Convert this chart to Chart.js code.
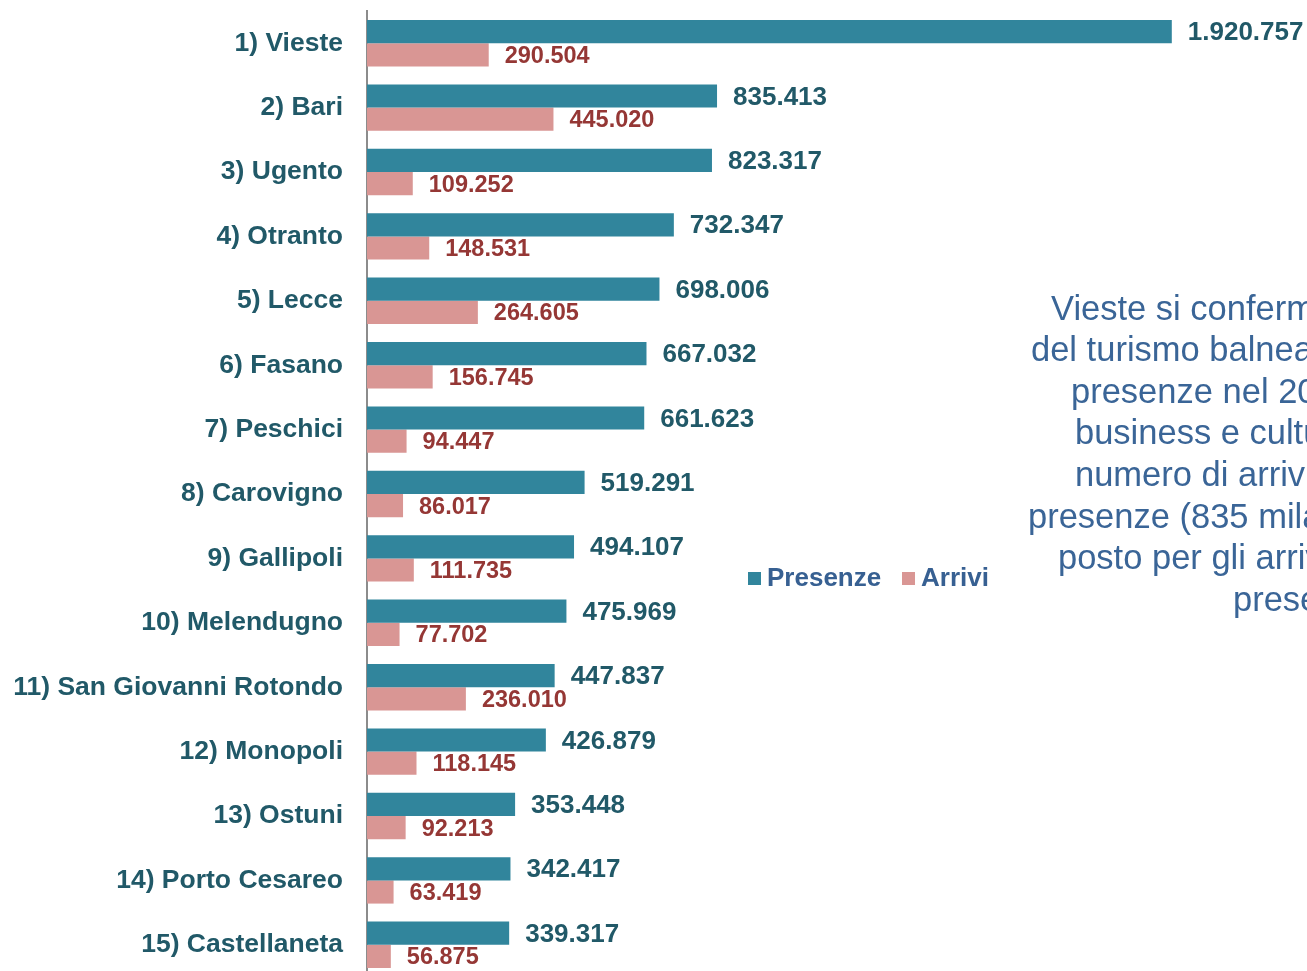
<!DOCTYPE html>
<html>
<head>
<meta charset="utf-8">
<script src="https://cdn.jsdelivr.net/npm/chart.js@4.4.1/dist/chart.umd.min.js"></script>
<style>
  html, body { margin: 0; padding: 0; background: #ffffff; overflow: hidden; width: 1307px; height: 971px; }
  #wrap { position: absolute; left: 0; top: 0; width: 1307px; height: 990px; }
</style>
</head>
<body>
<div id="wrap"><canvas id="c" width="1307" height="990"></canvas></div>
<script>
const categories = ['1) Vieste','2) Bari','3) Ugento','4) Otranto','5) Lecce','6) Fasano','7) Peschici','8) Carovigno','9) Gallipoli','10) Melendugno','11) San Giovanni Rotondo','12) Monopoli','13) Ostuni','14) Porto Cesareo','15) Castellaneta'];
const presenze = [1920757, 835413, 823317, 732347, 698006, 667032, 661623, 519291, 494107, 475969, 447837, 426879, 353448, 342417, 339317];
const arrivi = [290504, 445020, 109252, 148531, 264605, 156745, 94447, 86017, 111735, 77702, 236010, 118145, 92213, 63419, 56875];
const seriesNames = ['Presenze', 'Arrivi'];
const sideText = [
  'Vieste si conferma',
  'del turismo balneare',
  'presenze nel 20',
  'business e culturale',
  'numero di arrivi',
  'presenze (835 mila)',
  'posto per gli arrivi',
  'presenze'
];

const TEAL = '#31859C', PINK = '#D99694';
const TEAL_TXT = '#215968', RED_TXT = '#953735', BLUE_TXT = '#376092';
const FAM = '"Liberation Sans", Arial, sans-serif';

function fmt(v) { return String(v).replace(/\B(?=(\d{3})+(?!\d))/g, '.'); }

const labelPlugin = {
  id: 'valueLabels',
  afterDatasetsDraw(chart) {
    const ctx = chart.ctx;
    ctx.save();
    ctx.textAlign = 'left';
    ctx.textBaseline = 'middle';
    chart.data.datasets.forEach((ds, di) => {
      const meta = chart.getDatasetMeta(di);
      ctx.fillStyle = di === 0 ? TEAL_TXT : RED_TXT;
      ctx.font = 'bold ' + (di === 0 ? 26 : 23.5) + 'px ' + FAM;
      meta.data.forEach((bar, i) => {
        ctx.fillText(fmt(ds.data[i]), bar.x + 16, bar.y + 1.5);
      });
    });
    // legend
    ctx.font = 'bold 26px ' + FAM;
    const lx = [748, 902];
    chart.data.datasets.forEach((ds, di) => {
      ctx.fillStyle = ds.backgroundColor;
      ctx.fillRect(lx[di], 572, 13, 13);
      ctx.fillStyle = BLUE_TXT;
      ctx.fillText(ds.label, lx[di] + 19, 579);
    });
    // side text
    ctx.font = '34.5px ' + FAM;
    ctx.fillStyle = '#3A6597';
    const xs = [1051, 1031, 1071, 1075, 1075, 1028, 1058, 1233];
    const y0 = 310, dy = 41.6;
    sideText.forEach((t, i) => ctx.fillText(t, xs[i], y0 + i * dy));
    ctx.restore();
  }
};

new Chart(document.getElementById('c'), {
  type: 'bar',
  data: {
    labels: categories,
    datasets: [
      { label: seriesNames[0], data: presenze, backgroundColor: TEAL, categoryPercentage: 0.72, barPercentage: 1.0 },
      { label: seriesNames[1], data: arrivi, backgroundColor: PINK, categoryPercentage: 0.72, barPercentage: 1.0 }
    ]
  },
  options: {
    indexAxis: 'y',
    responsive: false,
    animation: false,
    layout: { padding: { left: 0, right: 102, top: 11, bottom: 13 } },
    plugins: { legend: { display: false }, tooltip: { enabled: false } },
    scales: {
      x: { display: false, min: 0, max: 2000000 },
      y: {
        afterFit(scale) { scale.width = 367; scale.paddingTop = 0; scale.paddingBottom = 0; },
        grid: { display: false, drawTicks: false },
        border: { display: true, color: '#8C8C8C', width: 2 },
        ticks: { color: TEAL_TXT, font: { family: FAM, size: 26.5, weight: 'bold' }, padding: 24 }
      }
    }
  },
  plugins: [labelPlugin]
});
</script>
</body>
</html>
